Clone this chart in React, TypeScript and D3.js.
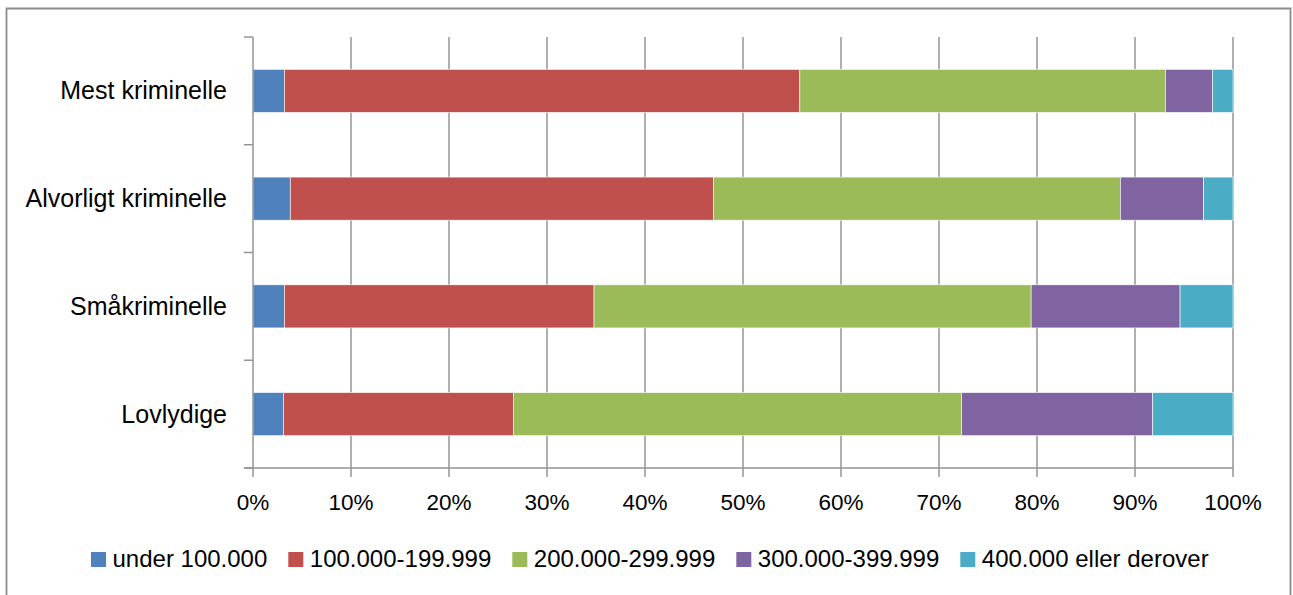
import React, { useEffect, useRef } from "react";
import * as d3 from "d3";

const categories = ["Mest kriminelle", "Alvorligt kriminelle", "Småkriminelle", "Lovlydige"];
const seriesNames = ["under 100.000", "100.000-199.999", "200.000-299.999", "300.000-399.999", "400.000 eller derover"];
const under100 = [3.2, 3.8, 3.2, 3.1];
const s100to199 = [52.6, 43.2, 31.6, 23.5];
const s200to299 = [37.3, 41.5, 44.6, 45.7];
const s300to399 = [4.8, 8.5, 15.2, 19.5];
const s400plus = [2.1, 3.0, 5.4, 8.2];
const xTicks = [0, 10, 20, 30, 40, 50, 60, 70, 80, 90, 100];
const colors = ["#4F81BD", "#C0504D", "#9BBB59", "#8064A2", "#4BACC6"];

const W = 1293;
const H = 595;
const plot = { left: 253, right: 1233, top: 37, bottom: 468 };
const FONT = "'Liberation Sans', Arial, sans-serif";

export default function App() {
  const ref = useRef<SVGSVGElement | null>(null);

  useEffect(() => {
    document.body.style.margin = "0";
    document.documentElement.style.overflow = "hidden";
    document.body.style.overflow = "hidden";

    const svg = d3.select(ref.current);
    svg.selectAll("*").remove();

    const series = [under100, s100to199, s200to299, s300to399, s400plus];
    const rows = categories.map((c, i) => {
      const r: any = { cat: c };
      seriesNames.forEach((s, j) => (r[s] = series[j][i]));
      return r;
    });
    const stack = d3.stack<any>().keys(seriesNames)(rows);

    const x = d3.scaleLinear().domain([0, 100]).range([plot.left, plot.right]);
    const y = d3.scaleBand<string>().domain(categories).range([plot.top, plot.bottom]).padding(0);
    const barH = y.bandwidth() * 0.4;

    // chart border
    svg.append("rect").attr("x", 0).attr("y", 0).attr("width", W).attr("height", H).attr("fill", "#fff");
    const border = svg.append("g").attr("stroke", "#8c8c8c").attr("stroke-width", 1.8).attr("fill", "none");
    border.append("path").attr("d", `M6.5,${H + 2} V8.5 H1290.5 V${H + 2}`);

    // gridlines
    svg.append("g").selectAll("line").data(xTicks.slice(1)).join("line")
      .attr("x1", (d) => x(d)).attr("x2", (d) => x(d))
      .attr("y1", plot.top).attr("y2", plot.bottom + 9)
      .attr("stroke", "#959595").attr("stroke-width", 1.5);

    // bars
    svg.append("g").selectAll("g").data(stack).join("g")
      .attr("fill", (_d, i) => colors[i])
      .selectAll("rect").data((d) => d).join("rect")
      .attr("x", (d) => x(d[0]))
      .attr("width", (d) => x(d[1]) - x(d[0]))
      .attr("y", (d) => (y(d.data.cat) as number) + (y.bandwidth() - barH) / 2)
      .attr("height", barH)
      .attr("stroke", "#ffffff").attr("stroke-width", 0.6);

    // y axis line and ticks
    svg.append("line")
      .attr("x1", plot.left).attr("x2", plot.left)
      .attr("y1", plot.top).attr("y2", plot.bottom + 9)
      .attr("stroke", "#959595").attr("stroke-width", 1.5);
    const yTickPos = categories.map((c) => y(c) as number).concat([plot.bottom]);
    svg.append("g").selectAll("line").data(yTickPos).join("line")
      .attr("x1", plot.left - 9).attr("x2", plot.left)
      .attr("y1", (d) => d).attr("y2", (d) => d)
      .attr("stroke", "#959595").attr("stroke-width", 1.5);

    // x axis line
    svg.append("line")
      .attr("x1", plot.left - 9).attr("x2", plot.right)
      .attr("y1", plot.bottom).attr("y2", plot.bottom)
      .attr("stroke", "#959595").attr("stroke-width", 1.5);

    // x tick labels
    svg.append("g").selectAll("text").data(xTicks).join("text")
      .attr("x", (d) => x(d)).attr("y", 510)
      .attr("text-anchor", "middle")
      .attr("font-family", FONT).attr("font-size", 22.5).attr("fill", "#000")
      .text((d) => `${d}%`);

    // category labels
    svg.append("g").selectAll("text").data(categories).join("text")
      .attr("x", 227)
      .attr("y", (d) => (y(d) as number) + y.bandwidth() / 2 + 8.5)
      .attr("text-anchor", "end")
      .attr("font-family", FONT).attr("font-size", 25).attr("fill", "#000")
      .text((d) => d);

    // legend
    const lg = svg.append("g");
    let cx = 91;
    seriesNames.forEach((name, i) => {
      lg.append("rect").attr("x", cx).attr("y", 552).attr("width", 15).attr("height", 15).attr("fill", colors[i]);
      const t = lg.append("text")
        .attr("x", cx + 21.5).attr("y", 567)
        .attr("font-family", FONT).attr("font-size", 24).attr("fill", "#000")
        .text(name);
      const w = (t.node() as SVGTextElement).getComputedTextLength();
      cx = cx + 21.5 + w + 21;
    });
  }, []);

  return <svg ref={ref} width={W} height={H} style={{ display: "block" }} />;
}
